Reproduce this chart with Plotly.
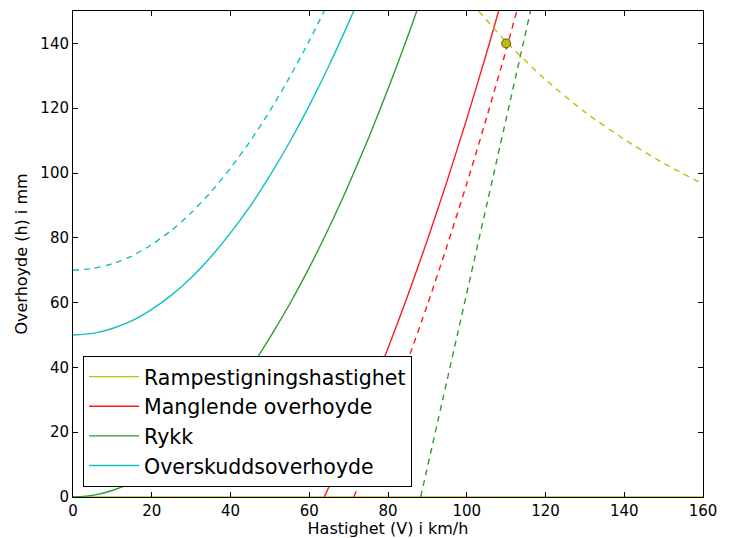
import plotly.graph_objects as go

# Overskuddsoverhoyde (solid / dashed)
v_over = [0, 5, 10, 15, 20, 25, 30, 35, 40, 45, 50, 55, 60, 65, 70, 71.3]
h_over = [50, 50.5, 52.0, 54.4, 57.9, 62.3, 67.7, 74.1, 81.5, 89.8, 99.2, 109.5, 120.8, 133.1, 146.4, 150]
v_over_d = [0, 5, 10, 15, 20, 25, 30, 35, 40, 45, 50, 55, 60, 63.8]
h_over_d = [70, 70.5, 72.0, 74.4, 77.9, 82.3, 87.7, 94.1, 101.5, 109.8, 119.2, 129.5, 140.8, 150]

# Rykk (solid / dashed)
v_rykk = [0, 5, 10, 15, 20, 25, 30, 35, 40, 45, 50, 55, 60, 65, 70, 75, 80, 85, 87.3]
h_rykk = [0, 0.5, 2.0, 4.4, 7.9, 12.3, 17.7, 24.1, 31.5, 39.8, 49.2, 59.5, 70.8, 83.1, 96.4, 110.6, 125.9, 142.1, 150]
v_rykk_d = [88.3, 97.6, 116.2]
h_rykk_d = [0, 50, 150]

# Manglende overhoyde (solid / dashed)
v_mang = [63.8, 65, 70, 75, 80, 85, 90, 95, 100, 105, 108.1]
h_mang = [0, 3.1, 16.4, 30.6, 45.9, 62.1, 79.3, 97.5, 116.7, 136.9, 150]
v_mang_d = [71.3, 75, 80, 85, 90, 95, 100, 105, 110, 112.7]
h_mang_d = [0, 10.6, 25.9, 42.1, 59.3, 77.5, 96.7, 116.9, 138.0, 150]

# Rampestigningshastighet (solid at zero / dashed)
v_ramp = [0, 160]
h_ramp = [0, 0]
v_ramp_d = [103, 110, 120, 130, 140, 150, 160]
h_ramp_d = [150, 140.5, 128.8, 118.8, 110.4, 103.0, 96.6]

# Punkt
v_pt = [110]
h_pt = [140]

x_ticks = [0, 20, 40, 60, 80, 100, 120, 140, 160]
y_ticks = [0, 20, 40, 60, 80, 100, 120, 140]

YEL = "#bfbf10"
RED = "#ff1a1a"
GRN = "#2e9e2e"
CYN = "#10c0c0"
DASH = "6px,5px"
W = 1.4

fig = go.Figure()

def add(x, y, color, name=None, dash=None, show=False, group=None):
    fig.add_trace(go.Scatter(
        x=x, y=y, mode="lines", name=name, showlegend=show,
        legendgroup=group,
        line=dict(color=color, width=W, dash=dash, shape="spline", smoothing=0.6),
    ))

add(v_ramp, h_ramp, YEL, "Rampestigningshastighet", show=True, group="a")
add(v_mang, h_mang, RED, "Manglende overhoyde", show=True, group="b")
add(v_rykk, h_rykk, GRN, "Rykk", show=True, group="c")
add(v_over, h_over, CYN, "Overskuddsoverhoyde", show=True, group="d")
add(v_ramp_d, h_ramp_d, YEL, dash=DASH)
add(v_mang_d, h_mang_d, RED, dash=DASH)
add(v_rykk_d, h_rykk_d, GRN, dash=DASH)
add(v_over_d, h_over_d, CYN, dash=DASH)

fig.add_trace(go.Scatter(
    x=v_pt, y=h_pt, mode="markers", showlegend=False,
    marker=dict(color="#bfbf00", size=9, line=dict(color="#333333", width=0.8)),
))

axis_common = dict(
    showgrid=False, zeroline=False, showline=True, linecolor="black",
    linewidth=1, mirror="ticks", ticks="inside", ticklen=5,
    tickcolor="black", tickfont=dict(size=15, color="black"),
    automargin=False,
)

fig.update_layout(
    width=735, height=538,
    margin=dict(l=73, r=32, t=11, b=41),
    paper_bgcolor="white", plot_bgcolor="white",
    font=dict(family="DejaVu Sans", color="black"),
    xaxis=dict(range=[0, 160], tickvals=x_ticks,
               title=dict(text="Hastighet (V) i km/h", font=dict(size=16), standoff=2),
               **axis_common),
    yaxis=dict(range=[0, 150], tickvals=y_ticks,
               title=dict(text="Overhoyde (h) i mm", font=dict(size=16), standoff=8),
               **axis_common),
    legend=dict(
        x=0.016, y=0.021, xanchor="left", yanchor="bottom",
        bordercolor="black", borderwidth=1, bgcolor="white",
        font=dict(size=20.5, color="black"),
        traceorder="grouped", tracegroupgap=0, itemwidth=50,
    ),
)

fig.write_html("out.html", config={"displayModeBar": False})

with open("out.html", "r", encoding="utf-8") as f:
    html = f.read()
html = html.replace("<head>", "<head><style>html,body{margin:0;padding:0;}</style>", 1)
with open("out.html", "w", encoding="utf-8") as f:
    f.write(html)
